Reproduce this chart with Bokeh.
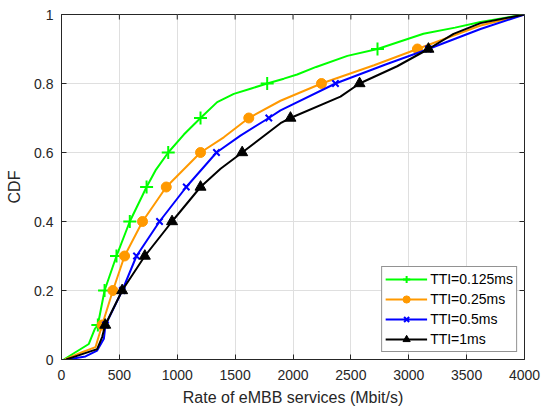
import math
from bokeh.plotting import figure
from bokeh.models import FixedTicker, Range1d, Legend, LegendItem
from bokeh.embed import file_html
from bokeh.resources import INLINE

# ---- data ----
labels = ["TTI=0.125ms", "TTI=0.25ms", "TTI=0.5ms", "TTI=1ms"]
colors = ["#00FF00", "#FF9900", "#0000FF", "#000000"]
markers = ["cross", "circle", "x", "triangle"]

mark_y = [0.1, 0.2, 0.3, 0.4, 0.5, 0.6, 0.7, 0.8, 0.9]
green_mark_x = [314, 372, 475, 590, 735, 922, 1201, 1777, 2730]
orange_mark_x = [351, 444, 545, 700, 905, 1201, 1618, 2246, 3075]
blue_mark_x = [380, 525, 648, 847, 1078, 1339, 1791, 2367, 3170]
black_mark_x = [378, 524, 720, 955, 1201, 1561, 1978, 2575, 3170]

green_x = [20, 121, 236, 288, 314, 372, 475, 590, 735, 812, 922, 1057, 1201, 1345, 1489, 1633, 1777, 1921, 2036, 2200, 2470, 2730, 3127, 3400, 3620, 4000]
green_y = [0, 0.021, 0.045, 0.089, 0.1, 0.2, 0.3, 0.4, 0.5, 0.548, 0.6, 0.652, 0.7, 0.746, 0.77, 0.785, 0.8, 0.814, 0.826, 0.848, 0.88, 0.9, 0.944, 0.962, 0.978, 1.0]

orange_x = [30, 178, 294, 337, 351, 444, 545, 700, 905, 1201, 1402, 1618, 1892, 2246, 2700, 3075, 3620, 4000]
orange_y = [0, 0.021, 0.036, 0.084, 0.1, 0.2, 0.3, 0.4, 0.5, 0.6, 0.644, 0.7, 0.75, 0.8, 0.853, 0.9, 0.968, 1.0]

blue_x = [50, 207, 308, 366, 380, 525, 648, 847, 1078, 1339, 1546, 1791, 1892, 2367, 2800, 3170, 3620, 4000]
blue_y = [0, 0.009, 0.026, 0.06, 0.1, 0.2, 0.3, 0.4, 0.5, 0.6, 0.649, 0.7, 0.722, 0.8, 0.855, 0.9, 0.958, 1.0]

black_x = [40, 121, 308, 351, 378, 524, 720, 955, 1201, 1374, 1561, 1892, 1978, 2410, 2575, 2900, 3170, 3387, 3620, 4000]
black_y = [0, 0.009, 0.03, 0.065, 0.1, 0.2, 0.3, 0.4, 0.5, 0.553, 0.6, 0.685, 0.7, 0.762, 0.8, 0.85, 0.9, 0.944, 0.975, 1.0]

x_ticks = [0, 500, 1000, 1500, 2000, 2500, 3000, 3500, 4000]
y_ticks = [0, 0.2, 0.4, 0.6, 0.8, 1.0]
y_tick_labels = ["0", "0.2", "0.4", "0.6", "0.8", "1"]

line_x = [green_x, orange_x, blue_x, black_x]
line_y = [green_y, orange_y, blue_y, black_y]
mark_x = [green_mark_x, orange_mark_x, blue_mark_x, black_mark_x]

FONT = "Liberation Sans"
AX = "#262626"

p = figure(width=543, height=409, output_backend="svg", toolbar_location=None,
           x_range=Range1d(0, 4000), y_range=Range1d(0, 1),
           min_border_left=61, min_border_right=19, min_border_top=14, min_border_bottom=50)
p.outline_line_color = AX
p.outline_line_width = 1
p.background_fill_color = "white"

for ax in (p.xaxis[0], p.yaxis[0]):
    ax.major_tick_in = 5
    ax.major_tick_out = 0
    ax.minor_tick_in = 0
    ax.minor_tick_out = 0
    ax.axis_line_color = AX
    ax.major_tick_line_color = AX
    ax.major_label_text_font = FONT
    ax.major_label_text_font_size = "14px"
    ax.major_label_text_color = AX
    ax.axis_label_text_font = FONT
    ax.axis_label_text_font_size = "16px"
    ax.axis_label_text_font_style = "normal"
    ax.axis_label_text_color = AX

p.xaxis.ticker = FixedTicker(ticks=x_ticks)
p.yaxis.ticker = FixedTicker(ticks=y_ticks)
p.yaxis.major_label_overrides = {t: s for t, s in zip(y_ticks, y_tick_labels)}
p.xaxis.axis_label = "Rate of eMBB services (Mbit/s)"
p.yaxis.axis_label = "CDF"
p.xaxis.major_label_standoff = 10
p.yaxis.major_label_standoff = 8
p.xaxis.axis_label_standoff = 6
p.yaxis.axis_label_standoff = 8

p.xgrid.ticker = FixedTicker(ticks=x_ticks)
p.ygrid.ticker = FixedTicker(ticks=y_ticks)
p.grid.grid_line_color = "#DFDFDF"
p.grid.grid_line_width = 1

# inward ticks on the top and right edges of the box (clipped to the frame)
p.scatter([4000] * len(y_ticks), y_ticks, marker="dash", size=10, line_color=AX, line_width=1)
p.scatter(x_ticks, [1.0] * len(x_ticks), marker="dash", size=10, angle=math.pi / 2,
          line_color=AX, line_width=1)

items = []
for i in range(4):
    c = colors[i]
    r1 = p.line(line_x[i], line_y[i], line_color=c, line_width=2)
    m = markers[i]
    if m == "circle":
        r2 = p.scatter(mark_x[i], mark_y, marker="circle", size=10, fill_color=c, line_color=c)
    elif m == "triangle":
        r2 = p.scatter(mark_x[i], mark_y, marker="triangle", size=11, fill_color=c, line_color=c)
    elif m == "cross":
        r2 = p.scatter(mark_x[i], mark_y, marker="cross", size=13, line_color=c, line_width=2)
    else:
        r2 = p.scatter(mark_x[i], mark_y, marker="x", size=9, line_color=c, line_width=2)
    items.append(LegendItem(label=labels[i], renderers=[r1, r2]))

legend = Legend(items=items, location="bottom_right")
legend.label_text_font = FONT
legend.label_text_font_size = "14px"
legend.label_text_color = "#000000"
legend.glyph_width = 42
legend.glyph_height = 18
legend.label_height = 18
legend.spacing = 2
legend.padding = 3
legend.margin = 7
legend.label_standoff = 3
legend.border_line_color = AX
legend.border_line_width = 1
legend.background_fill_alpha = 1
p.add_layout(legend, "center")

open("out.html", "w").write(file_html(p, INLINE))
